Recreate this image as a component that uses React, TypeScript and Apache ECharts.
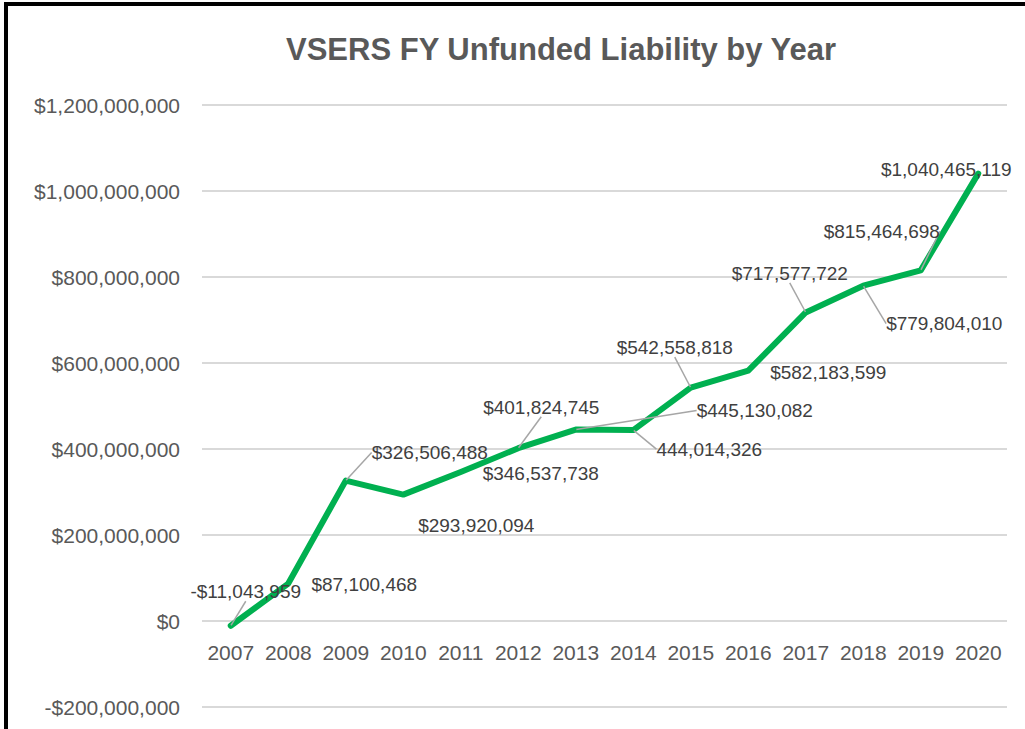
import React, { useEffect, useRef } from "react";
import * as echarts from "echarts";

const years = ["2007", "2008", "2009", "2010", "2011", "2012", "2013", "2014", "2015", "2016", "2017", "2018", "2019", "2020"];
const liability = [-11043959, 87100468, 326506488, 293920094, 346537738, 401824745, 445130082, 444014326, 542558818, 582183599, 717577722, 779804010, 815464698, 1040465119];
const labelTexts = ["-$11,043,959", "$87,100,468", "$326,506,488", "$293,920,094", "$346,537,738", "$401,824,745", "$445,130,082", "444,014,326", "$542,558,818", "$582,183,599", "$717,577,722", "$779,804,010", "$815,464,698", "$1,040,465,119"];
const yTicks = [-200000000, 0, 200000000, 400000000, 600000000, 800000000, 1000000000, 1200000000];
const titleText = "VSERS FY Unfunded Liability by Year";

// label offsets (dx, dy) relative to default "top" position, and whether a leader line is shown
const labelOffsets: [number, number, boolean][] = [
  [15, -24, true],
  [76, 11, false],
  [84, -18, true],
  [73, 41, false],
  [80, 12, false],
  [23, -31, true],
  [179, -9, true],
  [76, 29, true],
  [-16, -30, true],
  [80, 12, false],
  [-16, -29, true],
  [81, 48, true],
  [-39, -29, true],
  [-32, 6, false],
];

function fmtMoney(v: number): string {
  const s = Math.abs(v).toString().replace(/\B(?=(\d{3})+(?!\d))/g, ",");
  return (v < 0 ? "-$" : "$") + s;
}

export default function App() {
  const ref = useRef<HTMLDivElement>(null);
  useEffect(() => {
    document.body.style.margin = "0";
    const chart = echarts.init(ref.current!, null, { renderer: "svg" });
    const font = "'Liberation Sans', 'Open Sans', sans-serif";
    const gridTop = 105;
    const gridBottom = 22;
    const plotH = 729 - gridTop - gridBottom;
    const range = yTicks[yTicks.length - 1] - yTicks[0];
    // shift x axis up from the bottom edge to the zero line
    const zeroOffset = -((0 - yTicks[0]) / range) * plotH;
    chart.setOption({
      animation: false,
      backgroundColor: "#ffffff",
      title: {
        text: titleText,
        left: 281,
        top: 29,
        textStyle: { fontFamily: font, fontSize: 31, fontWeight: "bold", color: "#595959" },
      },
      graphic: [
        {
          type: "rect",
          shape: { x: 6, y: 4, width: 1200, height: 1000 },
          style: { fill: "none", stroke: "#000000", lineWidth: 4 },
          z: 100,
        },
      ],
      grid: { left: 202, right: 18, top: gridTop, bottom: gridBottom, outerBoundsMode: "none", containLabel: false },
      xAxis: {
        type: "category",
        data: years,
        boundaryGap: true,
        position: "bottom",
        offset: zeroOffset,
        axisLine: { show: false, onZero: false },
        axisTick: { show: false },
        axisLabel: { fontFamily: font, fontSize: 21, color: "#595959", margin: 21, interval: 0 },
      },
      yAxis: {
        type: "value",
        min: yTicks[0],
        max: yTicks[yTicks.length - 1],
        interval: yTicks[1] - yTicks[0],
        axisLine: { show: false },
        axisTick: { show: false },
        splitLine: { lineStyle: { color: "#d9d9d9", width: 2 } },
        axisLabel: {
          fontFamily: font,
          fontSize: 21,
          color: "#595959",
          margin: 22,
          formatter: (v: number) => fmtMoney(v),
        },
      },
      series: [
        {
          type: "line",
          data: liability.map((v, i) => ({
            value: v,
            label: { formatter: labelTexts[i] },
            labelLine: { show: labelOffsets[i][2] },
          })),
          symbol: "circle",
          symbolSize: 1,
          showSymbol: true,
          itemStyle: { color: "#00b050" },
          lineStyle: { color: "#00b050", width: 6, join: "round", cap: "round" },
          label: {
            show: true,
            position: "top",
            distance: 0,
            fontFamily: font,
            fontSize: 19,
            color: "#404040",
          },
          labelLine: { show: false, lineStyle: { color: "#a6a6a6", width: 1.5 } },
          labelLayout: (params: any) => {
            const o = labelOffsets[params.dataIndex];
            return { dx: o[0], dy: o[1], hideOverlap: false };
          },
        },
      ],
    });
    return () => chart.dispose();
  }, []);
  return <div ref={ref} style={{ position: "absolute", left: 0, top: 0, width: 1025, height: 729 }} />;
}
